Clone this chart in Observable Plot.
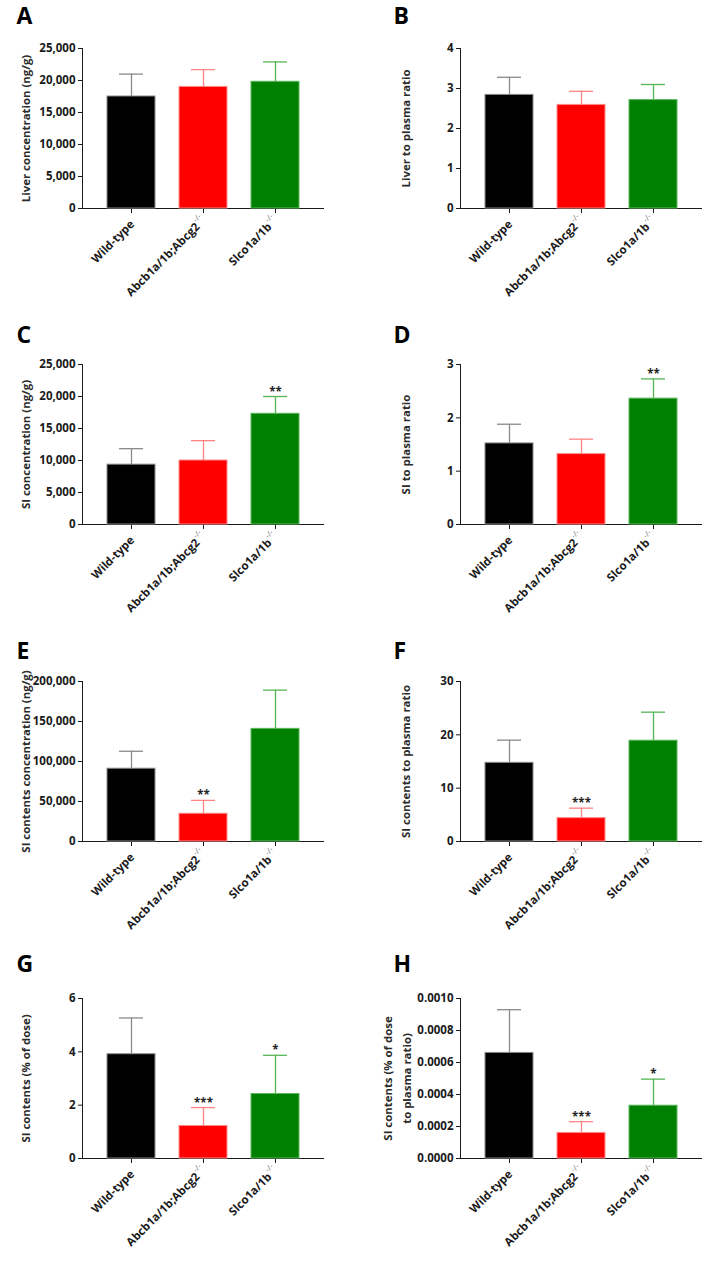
<!DOCTYPE html>
<html><head><meta charset="utf-8">
<script src="https://cdn.jsdelivr.net/npm/d3@7"></script>
<script src="https://cdn.jsdelivr.net/npm/@observablehq/plot@0.6"></script>
<style>
body{margin:0;background:#fff;}
#root{position:relative;width:713px;height:1267px;overflow:hidden;background:#fff;}
.panel{position:absolute;}
.panel svg{overflow:visible;}
</style></head><body><div id="root"></div>
<script>
// ---- data ----
const groups = ["Wild-type", "Abcb1a/1b;Abcg2-/-", "Slco1a/1b-/-"];
const groupColors = ["#000000", "#ff0000", "#008000"];
const edgeColors = ["#8a8a8a", "#ff8c8c", "#5cb85c"];
const errorColors = ["#8a8a8a", "#ff8484", "#55b555"];

const liverConcMean = [17500, 19000, 19800];
const liverConcSD = [3500, 2700, 3100];
const liverConcTicks = [0, 5000, 10000, 15000, 20000, 25000];

const liverRatioMean = [2.84, 2.59, 2.71];
const liverRatioSD = [0.44, 0.34, 0.39];
const liverRatioTicks = [0, 1, 2, 3, 4];

const siConcMean = [9350, 10000, 17300];
const siConcSD = [2500, 3100, 2700];
const siConcTicks = [0, 5000, 10000, 15000, 20000, 25000];
const siConcStars = ["", "", "**"];

const siRatioMean = [1.52, 1.32, 2.36];
const siRatioSD = [0.36, 0.28, 0.37];
const siRatioTicks = [0, 1, 2, 3];
const siRatioStars = ["", "", "**"];

const contConcMean = [91000, 34700, 140800];
const contConcSD = [21800, 16700, 48400];
const contConcTicks = [0, 50000, 100000, 150000, 200000];
const contConcStars = ["", "**", ""];

const contRatioMean = [14.75, 4.38, 18.9];
const contRatioSD = [4.25, 1.87, 5.35];
const contRatioTicks = [0, 10, 20, 30];
const contRatioStars = ["", "***", ""];

const contDoseMean = [3.91, 1.22, 2.42];
const contDoseSD = [1.36, 0.69, 1.45];
const contDoseTicks = [0, 2, 4, 6];
const contDoseStars = ["", "***", "*"];

const contDoseRatioMean = [0.00066, 0.00016, 0.00033];
const contDoseRatioSD = [0.00027, 0.00007, 0.000166];
const contDoseRatioTicks = [0, 0.0002, 0.0004, 0.0006, 0.0008, 0.0010];
const contDoseRatioStars = ["", "***", "*"];

const noStars = ["", "", ""];

const panels = [
  {letter: "A", title: "Liver concentration (ng/g)", mean: liverConcMean, sd: liverConcSD, ticks: liverConcTicks, stars: noStars, fmt: ","},
  {letter: "B", title: "Liver to plasma ratio", mean: liverRatioMean, sd: liverRatioSD, ticks: liverRatioTicks, stars: noStars, fmt: "d"},
  {letter: "C", title: "SI concentration (ng/g)", mean: siConcMean, sd: siConcSD, ticks: siConcTicks, stars: siConcStars, fmt: ","},
  {letter: "D", title: "SI to plasma ratio", mean: siRatioMean, sd: siRatioSD, ticks: siRatioTicks, stars: siRatioStars, fmt: "d"},
  {letter: "E", title: "SI contents concentration (ng/g)", mean: contConcMean, sd: contConcSD, ticks: contConcTicks, stars: contConcStars, fmt: ","},
  {letter: "F", title: "SI contents to plasma ratio", mean: contRatioMean, sd: contRatioSD, ticks: contRatioTicks, stars: contRatioStars, fmt: "d"},
  {letter: "G", title: "SI contents (% of dose)", mean: contDoseMean, sd: contDoseSD, ticks: contDoseTicks, stars: contDoseStars, fmt: "d"},
  {letter: "H", title: "SI contents (% of dose\nto plasma ratio)", mean: contDoseRatioMean, sd: contDoseRatioSD, ticks: contDoseRatioTicks, stars: contDoseRatioStars, fmt: ".4f"}
];

// ---- layout ----
const rowTops = [0, 316, 633, 950];
const letterCapTop = [7, 10.5, 9, 5];
const FONT = "'Open Sans', sans-serif";
const SUP = "-/-";

function makePanel(p, idx) {
  const col = idx % 2, row = Math.floor(idx / 2);
  const W = col === 0 ? 356 : 357;
  const ml = col === 0 ? 82 : 104;
  const mt = 48, innerH = 160, innerW = 241;
  const H = 317;
  const titleDx = idx === 7 ? 65 : (col === 0 ? 59 : 57);
  const letterX = col === 0 ? 16 : 37;
  const letterBase = letterCapTop[row] + 16.4;
  const data = groups.map((g, i) => ({g, i, mean: p.mean[i], top: p.mean[i] + p.sd[i], star: p.stars[i]}));
  const plain = groups.filter(g => !g.endsWith(SUP));
  const withSup = groups.filter(g => g.endsWith(SUP));
  const labelOpts = {x: d => d, text: d => d, frameAnchor: "bottom", rotate: -45, textAnchor: "end", lineAnchor: "bottom", fontSize: 11.5, fontWeight: 700, fill: "#1a1a1a"};
  const chart = Plot.plot({
    width: W, height: H,
    marginLeft: ml, marginRight: W - ml - innerW, marginTop: mt, marginBottom: H - mt - innerH,
    style: {fontFamily: FONT, fontSize: "11.5px", fontWeight: 700, color: "#1a1a1a", background: "transparent", overflow: "visible"},
    x: {domain: groups, paddingInner: 1/3, paddingOuter: 1/3, tickSize: 5, tickFormat: () => "", label: null, line: true},
    y: {domain: [0, p.ticks[p.ticks.length - 1]], ticks: p.ticks, tickSize: 4, tickPadding: 3, tickFormat: d3.format(p.fmt), label: null, line: true},
    marks: [
      Plot.barY(data, {x: "g", y: "mean", fill: d => groupColors[d.i], stroke: d => edgeColors[d.i], strokeWidth: 1}),
      Plot.ruleX(data, {x: "g", y1: "mean", y2: "top", stroke: d => errorColors[d.i], strokeWidth: 1.3}),
      Plot.tickY(data, {x: "g", y: "top", stroke: d => errorColors[d.i], strokeWidth: 1.3, insetLeft: 12, insetRight: 12}),
      Plot.text(data, {x: "g", y: "top", text: "star", lineAnchor: "bottom", dy: -1, fontSize: 11.5, fontWeight: 700, fill: "#222"}),
      Plot.text(plain, {...labelOpts, dx: 3.5, dy: 16.5}),
      Plot.text(withSup, {...labelOpts, dx: 3, dy: 13}),
      Plot.text([p.title], {text: d => d, frameAnchor: "left", rotate: -90, dx: -titleDx, textAnchor: "middle", lineAnchor: "middle", lineHeight: 1.67, fontSize: 11.4, fontWeight: 700, fill: "#2a2a2a"}),
      Plot.text([p.letter], {text: d => d, frameAnchor: "top-left", dx: letterX - ml, dy: letterBase - mt, textAnchor: "start", lineAnchor: "bottom", fontSize: 23, fontWeight: 700, fill: "#000"})
    ]
  });
  // superscript -/- on genotype labels
  chart.querySelectorAll("text").forEach(el => {
    if (el.childElementCount === 0 && el.textContent.endsWith(SUP)) {
      const base = el.textContent.slice(0, -SUP.length);
      el.textContent = base;
      const ts = document.createElementNS("http://www.w3.org/2000/svg", "tspan");
      ts.setAttribute("dx", "0.5");
      ts.setAttribute("dy", "-6.5");
      ts.setAttribute("font-size", "8");
      ts.setAttribute("font-weight", "400");
      ts.setAttribute("fill", "#7a7a7a");
      ts.textContent = SUP;
      el.appendChild(ts);
    }
  });
  const div = document.createElement("div");
  div.className = "panel";
  div.style.left = (col === 0 ? 0 : 356) + "px";
  div.style.top = rowTops[row] + "px";
  div.appendChild(chart);
  return div;
}

const root = document.getElementById("root");
panels.forEach((p, i) => root.appendChild(makePanel(p, i)));
</script>
</body></html>
